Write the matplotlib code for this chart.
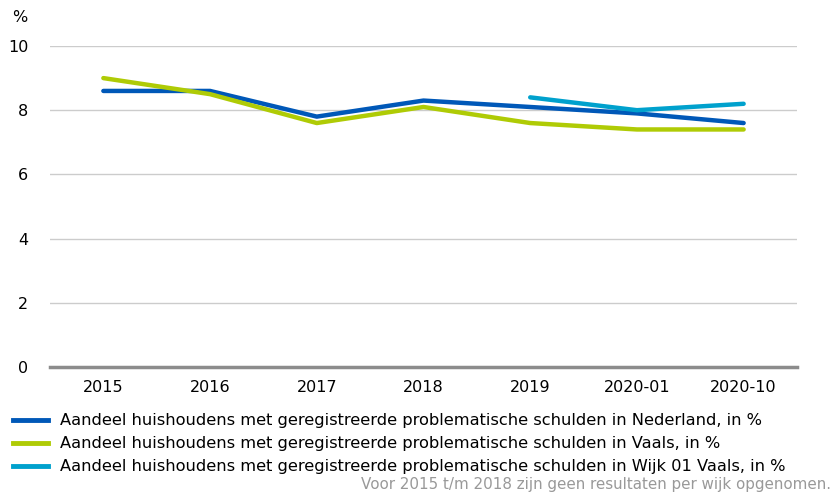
import numpy as np
import matplotlib.pyplot as plt

perioden = ["2015", "2016", "2017", "2018", "2019", "2020-01", "2020-10"]
nederland = [8.6, 8.6, 7.8, 8.3, 8.1, 7.9, 7.6]
vaals = [9.0, 8.5, 7.6, 8.1, 7.6, 7.4, 7.4]
wijk01 = [np.nan, np.nan, np.nan, np.nan, 8.4, 8.0, 8.2]

labels = [
    "Aandeel huishoudens met geregistreerde problematische schulden in Nederland, in %",
    "Aandeel huishoudens met geregistreerde problematische schulden in Vaals, in %",
    "Aandeel huishoudens met geregistreerde problematische schulden in Wijk 01 Vaals, in %",
]
kleuren = ["#0058b8", "#afcb05", "#00a1cd"]

plt.rcParams['font.family'] = ['DejaVu Sans']
fig = plt.figure(figsize=(8.32, 4.94), dpi=100)
ax = fig.add_axes([50/832, 1-367/494, 747/832, 321/494])

x = np.arange(len(perioden))
for serie, kl in zip([nederland, vaals, wijk01], kleuren):
    ax.plot(x, serie, color=kl, lw=3.2, solid_capstyle='round', solid_joinstyle='round')

ax.set_xlim(-0.5, len(perioden) - 0.5)
ax.set_ylim(0, 10)
ax.set_yticks([0, 2, 4, 6, 8, 10])
ax.yaxis.grid(True, color="#cccccc", lw=1)
ax.set_axisbelow(True)
ax.axhline(0, color="#8c8c8c", lw=2.5, clip_on=False)
for s in ax.spines.values():
    s.set_visible(False)
ax.tick_params(length=0, labelsize=11.5, colors="#000000")
ax.tick_params(axis='y', pad=15.5)
ax.tick_params(axis='x', pad=9)
ax.set_xticks(x)
ax.set_xticklabels(perioden)

fig.text(12/832, 1-18/494, "%", fontsize=11.5, va='center')

rijen = [420, 443, 466]
for lab, kl, yy in zip(labels, kleuren, rijen):
    fy = 1 - yy/494
    fig.add_artist(plt.Line2D([13/832, 48/832], [fy, fy], color=kl, lw=3.5))
    fig.text(60/832, fy, lab, fontsize=11.7, va='center')

fig.text(831/832, 1-484/494, "Voor 2015 t/m 2018 zijn geen resultaten per wijk opgenomen.",
         fontsize=10.9, color="#999999", ha='right', va='center')

fig.savefig("out.png", dpi=100)
